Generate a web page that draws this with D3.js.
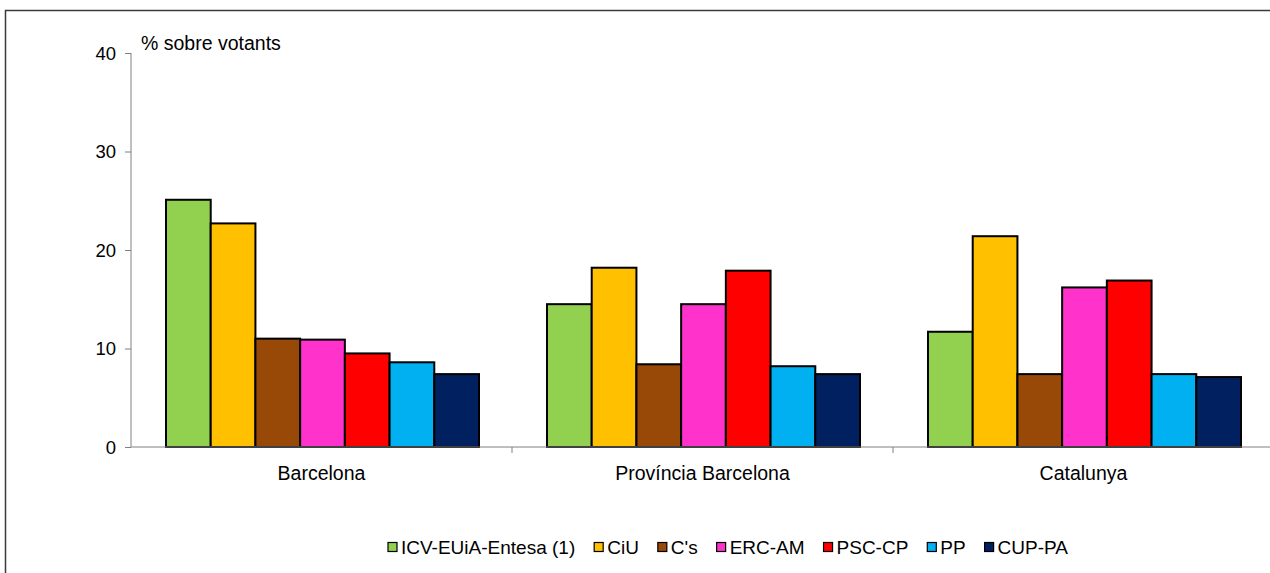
<!DOCTYPE html>
<html>
<head>
<meta charset="utf-8">
<script src="https://cdn.jsdelivr.net/npm/d3@7"></script>
<style>
  body { margin: 0; background: #fff; }
  text { font-family: "Liberation Sans", Arial, sans-serif; fill: #000; }
</style>
</head>
<body>
<script>
// categories and parties
var places = ["Barcelona", "Província Barcelona", "Catalunya"];
var parties = ["ICV-EUiA-Entesa (1)", "CiU", "C's", "ERC-AM", "PSC-CP", "PP", "CUP-PA"];
var colors = ["#92D050", "#FFC000", "#984807", "#FF33CC", "#FF0000", "#00B0F0", "#002060"];

// % sobre votants, one array per place
var barcelona = [25.1, 22.7, 11.0, 10.9, 9.5, 8.6, 7.4];
var provincia = [14.5, 18.2, 8.4, 14.5, 17.9, 8.2, 7.4];
var catalunya = [11.7, 21.4, 7.4, 16.2, 16.9, 7.4, 7.1];
var values = [barcelona, provincia, catalunya];

var yTicks = [0, 10, 20, 30, 40];

var fullwidth = 1270, fullheight = 573;
var margin = {top: 53, left: 131, bottom: 126};
var plotRight = 1274;

var svg = d3.select("body")
  .append("svg")
   .attr("width", fullwidth)
   .attr("height", fullheight);

// frame
svg.append("rect")
  .attr("x", 5.5).attr("y", 10.5)
  .attr("width", 1400).attr("height", 700)
  .attr("fill", "none")
  .attr("stroke", "#3a3a3a")
  .attr("stroke-width", 1.5);

var yscale = d3.scaleLinear()
  .domain([0, 40])
  .range([fullheight - margin.bottom, margin.top]);

var xscale = d3.scaleBand()
  .domain(places)
  .range([margin.left, plotRight]);

var inner = d3.scaleBand()
  .domain(parties)
  .range([35, xscale.bandwidth() - 33]);

// bars
var groups = svg.selectAll("g.place")
  .data(places)
  .enter().append("g")
  .attr("class", "place")
  .attr("transform", function(d) { return "translate(" + xscale(d) + ",0)"; });

groups.selectAll("rect")
  .data(function(d, i) {
      return values[i].map(function(v, j) { return {party: parties[j], value: v, color: colors[j]}; });
  })
  .enter().append("rect")
  .attr("x", function(d) { return inner(d.party); })
  .attr("y", function(d) { return yscale(d.value); })
  .attr("width", inner.bandwidth())
  .attr("height", function(d) { return yscale(0) - yscale(d.value); })
  .style("fill", function(d) { return d.color; })
  .style("stroke", "#000")
  .style("stroke-width", 2);

// y axis
var yaxis = svg.append("g")
  .attr("transform", "translate(" + margin.left + ",0)")
  .call(d3.axisLeft(yscale).tickValues(yTicks).tickSize(6).tickPadding(9));
yaxis.select(".domain").attr("stroke", "#808080").attr("d", "M0," + yscale(40) + "V" + yscale(0));
yaxis.selectAll(".tick line").attr("stroke", "#808080");
yaxis.selectAll("text").style("font-size", "18.5px").attr("dy", "0.35em");

// x axis
var xaxis = svg.append("g")
  .attr("transform", "translate(0," + yscale(0) + ")");
xaxis.append("line")
  .attr("x1", margin.left).attr("x2", plotRight)
  .attr("stroke", "#808080");
xaxis.selectAll("line.tick")
  .data(places.slice(1))
  .enter().append("line")
  .attr("class", "tick")
  .attr("x1", function(d) { return xscale(d); })
  .attr("x2", function(d) { return xscale(d); })
  .attr("y1", 0).attr("y2", 6)
  .attr("stroke", "#808080");
xaxis.selectAll("text")
  .data(places)
  .enter().append("text")
  .attr("x", function(d) { return xscale(d) + xscale.bandwidth() / 2; })
  .attr("y", 33)
  .style("text-anchor", "middle")
  .style("font-size", "19.5px")
  .text(function(d) { return d; });

// axis title
svg.append("text")
  .attr("x", 141).attr("y", 50)
  .style("font-size", "19.5px")
  .text("% sobre votants");

// legend
var legend = svg.append("g").attr("transform", "translate(0,547)");
var items = legend.selectAll("g")
  .data(parties)
  .enter().append("g");
items.append("rect")
  .attr("width", 9).attr("height", 9)
  .attr("y", -4.5)
  .style("fill", function(d, i) { return colors[i]; })
  .style("stroke", "#000")
  .style("stroke-width", 1.2);
items.append("text")
  .attr("x", 13)
  .attr("dy", "0.35em")
  .style("font-size", "19px")
  .text(function(d) { return d; });

var widths = [];
items.each(function() {
  widths.push(13 + d3.select(this).select("text").node().getComputedTextLength());
});
var legStart = 388, legEnd = 1068;
var gap = (legEnd - legStart - d3.sum(widths)) / (parties.length - 1);
var xpos = legStart, offsets = [];
widths.forEach(function(w) { offsets.push(xpos); xpos += w + gap; });
items.attr("transform", function(d, i) { return "translate(" + offsets[i] + ",0)"; });
</script>
</body>
</html>
